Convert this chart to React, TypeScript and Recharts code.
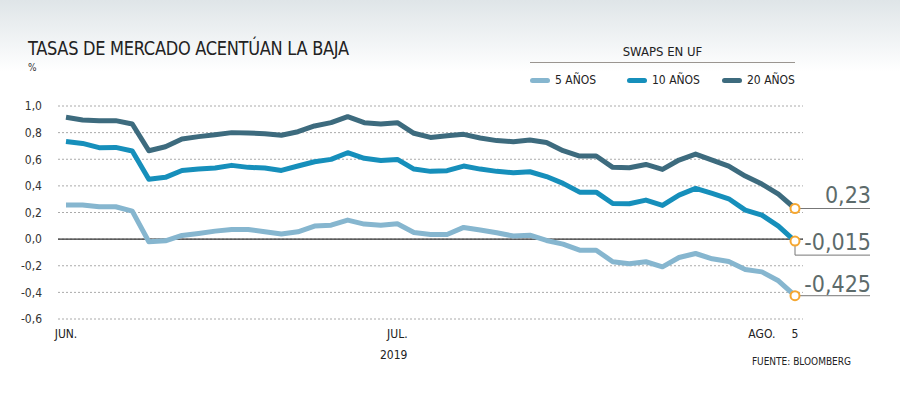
import { LineChart, Line, XAxis, YAxis, CartesianGrid, ReferenceLine } from 'recharts';

// Swaps en UF, 3 jun - 5 ago 2019 (business days)
const X_TICKS = [0, 20, 42, 44];
const X_LABELS = ['JUN.', 'JUL.', 'AGO.', '5'];
const Y_TICKS = [-0.6, -0.4, -0.2, 0, 0.2, 0.4, 0.6, 0.8, 1.0];

const SWAP_5 = [0.256, 0.256, 0.243, 0.243, 0.21, -0.02, -0.013, 0.028, 0.043, 0.06, 0.073, 0.073, 0.055, 0.038, 0.055,
  0.098, 0.105, 0.143, 0.113, 0.105, 0.115, 0.05, 0.035, 0.035, 0.088, 0.068, 0.048, 0.023, 0.03, -0.01,
  -0.038, -0.083, -0.083, -0.17, -0.185, -0.17, -0.208, -0.138, -0.108, -0.148, -0.168, -0.228, -0.246, -0.313, -0.425];
const SWAP_10 = [0.734, 0.719, 0.687, 0.689, 0.662, 0.449, 0.464, 0.516, 0.526, 0.534, 0.554, 0.539, 0.534, 0.516, 0.549,
  0.581, 0.599, 0.649, 0.607, 0.591, 0.599, 0.526, 0.509, 0.514, 0.549, 0.526, 0.509, 0.499, 0.506, 0.47,
  0.419, 0.353, 0.353, 0.268, 0.266, 0.293, 0.253, 0.331, 0.381, 0.343, 0.303, 0.218, 0.18, 0.098, -0.015];
const SWAP_20 = [0.915, 0.895, 0.89, 0.89, 0.865, 0.664, 0.694, 0.752, 0.77, 0.784, 0.8, 0.797, 0.792, 0.78, 0.807,
  0.85, 0.875, 0.92, 0.875, 0.865, 0.875, 0.795, 0.764, 0.777, 0.787, 0.76, 0.74, 0.732, 0.744, 0.726,
  0.664, 0.624, 0.624, 0.539, 0.536, 0.561, 0.524, 0.594, 0.639, 0.594, 0.549, 0.474, 0.414, 0.338, 0.23];
const END_LABELS = ['-0,425', '-0,015', '0,23'];
const SERIES_NAMES = ['5 AÑOS', '10 AÑOS', '20 AÑOS'];

const COLORS = ['#86b6cf', '#168fbb', '#3d6b7e'];
const FONT = "'Liberation Sans Narrow', 'DejaVu Sans Condensed', Roboto, sans-serif";
const LAST = SWAP_5.length - 1;

const data = SWAP_5.map((v, i) => ({ i, s5: v, s10: SWAP_10[i], s20: SWAP_20[i] }));
const fmt = (v: number) => v.toFixed(1).replace('.', ',');

// end marker + leader line + value label (drop = leader goes below the marker)
function endDot(label: string, textDy: number, drop: number) {
  return (p: any) => {
    const { cx, cy, index } = p;
    if (index !== LAST) return <g key={`e${index}`} />;
    const ly = cy + drop;
    return (
      <g key={`e${index}`}>
        {drop > 0 && <line x1={cx} y1={cy} x2={cx} y2={ly} stroke="#777" strokeWidth={1} />}
        <line x1={cx} y1={ly} x2={870} y2={ly} stroke="#777" strokeWidth={1} />
        <circle cx={cx} cy={cy} r={4.5} fill="#fff" stroke="#f5a731" strokeWidth={2} />
        <text x={871} y={cy + textDy} textAnchor="end" fontSize={23} fill="#5d6b6b" fontFamily={FONT}>{label}</text>
      </g>
    );
  };
}

export default function App() {
  return (
    <div style={{ position: 'absolute', left: 0, top: 0, width: 900, height: 398, fontFamily: FONT,
      background: 'linear-gradient(to bottom, #dfe5e8 0px, #ffffff 72px)', overflow: 'hidden' }}>
      <div style={{ position: 'absolute', left: 28, top: 36, fontSize: 20, color: '#222', letterSpacing: -0.3,
        transform: 'scaleX(0.9)', transformOrigin: 'left top', whiteSpace: 'nowrap' }}>
        TASAS DE MERCADO ACENTÚAN LA BAJA
      </div>
      <div style={{ position: 'absolute', left: 28, top: 62, fontSize: 10, color: '#333' }}>%</div>
      <div style={{ position: 'absolute', left: 530, top: 44, width: 265, textAlign: 'center', fontSize: 13, color: '#222',
        borderBottom: '1px solid #9a9590', paddingBottom: 3 }}>SWAPS EN UF</div>
      {SERIES_NAMES.map((n, k) => (
        <div key={n} style={{ position: 'absolute', left: [530, 627, 722][k], top: 73, display: 'flex', alignItems: 'center', fontSize: 12, color: '#222' }}>
          <span style={{ display: 'inline-block', width: 20, height: 5, borderRadius: 3, background: COLORS[k], marginRight: 5 }} />
          {n}
        </div>
      ))}
      <div style={{ position: 'absolute', left: 380, top: 348, fontSize: 12, color: '#222' }}>2019</div>
      <div style={{ position: 'absolute', right: 49, top: 356, fontSize: 10, color: '#222' }}>FUENTE: BLOOMBERG</div>
      <LineChart width={900} height={398} data={data} margin={{ top: 106, right: 97, bottom: 49, left: 0 }}
        style={{ position: 'absolute', left: 0, top: 0 }}>
        <CartesianGrid horizontal vertical={false} stroke="#aaa" strokeDasharray="2 2" />
        <XAxis type="number" dataKey="i" domain={[0, LAST]} ticks={X_TICKS} padding={{ left: 8, right: 8 }}
          tickFormatter={(v: number) => X_LABELS[X_TICKS.indexOf(v)]} axisLine={false} tickLine={false} height={30}
          tick={{ fill: '#222', fontSize: 12, fontFamily: FONT }} tickMargin={4} interval={0} />
        <YAxis domain={[-0.6, 1.0]} ticks={Y_TICKS} width={58} axisLine={false} tickLine={false}
          tickFormatter={fmt} tick={{ fill: '#333', fontSize: 12, fontFamily: FONT }} tickMargin={10} />
        <ReferenceLine y={0} stroke="#333" strokeWidth={1.2} />
        <Line dataKey="s5" stroke={COLORS[0]} strokeWidth={5} strokeLinejoin="round" isAnimationActive={false} dot={endDot(END_LABELS[0], -4, 0)} activeDot={false} />
        <Line dataKey="s10" stroke={COLORS[1]} strokeWidth={5} strokeLinejoin="round" isAnimationActive={false} dot={endDot(END_LABELS[1], 9, 14)} activeDot={false} />
        <Line dataKey="s20" stroke={COLORS[2]} strokeWidth={5} strokeLinejoin="round" isAnimationActive={false} dot={endDot(END_LABELS[2], -6, 0)} activeDot={false} />
      </LineChart>
    </div>
  );
}
